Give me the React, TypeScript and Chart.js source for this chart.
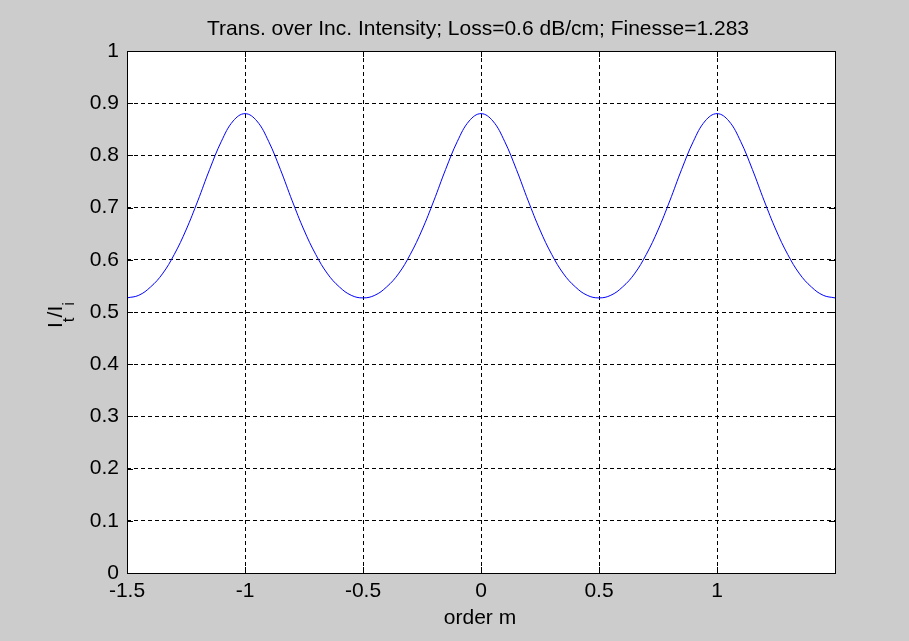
import { useEffect, useRef } from 'react';
import { Chart, registerables } from 'chart.js';

Chart.register(...registerables);

const FONT = '"Liberation Sans", Arial, Helvetica, sans-serif';
const chartTitle = 'Trans. over Inc. Intensity; Loss=0.6 dB/cm; Finesse=1.283';
const xAxisLabel = 'order m';

const orderM = [
  -1.5, -1.45, -1.4, -1.35, -1.3, -1.25, -1.2, -1.15, -1.1, -1.05,
  -1.0, -0.95, -0.9, -0.85, -0.8, -0.75, -0.7, -0.65, -0.6, -0.55,
  -0.5, -0.45, -0.4, -0.35, -0.3, -0.25, -0.2, -0.15, -0.1, -0.05,
  0.0, 0.05, 0.1, 0.15, 0.2, 0.25, 0.3, 0.35, 0.4, 0.45,
  0.5, 0.55, 0.6, 0.65, 0.7, 0.75, 0.8, 0.85, 0.9, 0.95,
  1.0, 1.05, 1.1, 1.15, 1.2, 1.25, 1.3, 1.35, 1.4, 1.45,
  1.5,
];

const transmission = [
  0.527, 0.532, 0.548, 0.573, 0.610, 0.657, 0.713, 0.773, 0.827, 0.866,
  0.880, 0.866, 0.827, 0.773, 0.713, 0.657, 0.610, 0.573, 0.548, 0.532,
  0.527, 0.532, 0.548, 0.573, 0.610, 0.657, 0.713, 0.773, 0.827, 0.866,
  0.880, 0.866, 0.827, 0.773, 0.713, 0.657, 0.610, 0.573, 0.548, 0.532,
  0.527, 0.532, 0.548, 0.573, 0.610, 0.657, 0.713, 0.773, 0.827, 0.866,
  0.880, 0.866, 0.827, 0.773, 0.713, 0.657, 0.610, 0.573, 0.548, 0.532,
  0.527,
];

const xTicks = [-1.5, -1, -0.5, 0, 0.5, 1, 1.5];
const xTickLabels = ['-1.5', '-1', '-0.5', '0', '0.5', '1', ''];
const yTicks = [0, 0.1, 0.2, 0.3, 0.4, 0.5, 0.6, 0.7, 0.8, 0.9, 1];
const yTickLabels = ['0', '0.1', '0.2', '0.3', '0.4', '0.5', '0.6', '0.7', '0.8', '0.9', '1'];

const matlabPlugin = {
  id: 'matlabLook',
  beforeDraw(chart: any) {
    const { ctx, width, height, chartArea: a } = chart;
    ctx.save();
    ctx.fillStyle = '#cccccc';
    ctx.fillRect(0, 0, width, height);
    ctx.fillStyle = '#ffffff';
    ctx.fillRect(a.left, a.top, a.right - a.left, a.bottom - a.top);
    ctx.restore();
  },
  afterDraw(chart: any) {
    const { ctx, chartArea: a } = chart;
    const xs = chart.scales.x;
    const ys = chart.scales.y;
    ctx.save();
    ctx.strokeStyle = '#000000';
    ctx.lineWidth = 1;
    ctx.setLineDash([]);
    ctx.strokeRect(a.left + 0.5, a.top + 0.5, a.right - a.left, a.bottom - a.top);
    ctx.beginPath();
    xTicks.forEach((v) => {
      const px = Math.round(xs.getPixelForValue(v)) + 0.5;
      ctx.moveTo(px, a.bottom);
      ctx.lineTo(px, a.bottom - 6);
      ctx.moveTo(px, a.top);
      ctx.lineTo(px, a.top + 6);
    });
    yTicks.forEach((v) => {
      const py = Math.round(ys.getPixelForValue(v)) + 0.5;
      ctx.moveTo(a.left, py);
      ctx.lineTo(a.left + 6, py);
      ctx.moveTo(a.right, py);
      ctx.lineTo(a.right - 6, py);
    });
    ctx.stroke();

    ctx.fillStyle = '#000000';
    ctx.font = `21px ${FONT}`;
    ctx.textAlign = 'center';
    ctx.textBaseline = 'alphabetic';
    ctx.fillText(chartTitle, 478, 35);
    ctx.fillText(xAxisLabel, 480, 624);

    // y-axis label: I_t / I_i, rotated
    const parts = [
      { t: 'I', sub: false },
      { t: 't', sub: true },
      { t: '/', sub: false },
      { t: 'I', sub: false },
      { t: 'i', sub: true },
    ];
    const mainFont = `21px ${FONT}`;
    const subFont = `17px ${FONT}`;
    let total = 0;
    parts.forEach((p) => {
      ctx.font = p.sub ? subFont : mainFont;
      total += ctx.measureText(p.t).width;
    });
    ctx.translate(62, 315);
    ctx.rotate(-Math.PI / 2);
    ctx.textAlign = 'left';
    let cx = -total / 2;
    parts.forEach((p) => {
      ctx.font = p.sub ? subFont : mainFont;
      ctx.fillText(p.t, cx, p.sub ? 12 : 0);
      cx += ctx.measureText(p.t).width;
    });
    ctx.restore();
  },
};

export default function App() {
  const canvasRef = useRef<HTMLCanvasElement | null>(null);

  useEffect(() => {
    if (!canvasRef.current) return;
    const points = orderM.map((m, i) => ({ x: m, y: transmission[i] }));
    const chart = new Chart(canvasRef.current, {
      type: 'line',
      data: {
        datasets: [
          {
            data: points,
            borderColor: '#0000ff',
            borderWidth: 1,
            pointRadius: 0,
            tension: 0.4,
            fill: false,
          },
        ],
      },
      options: {
        animation: false,
        responsive: false,
        maintainAspectRatio: false,
        devicePixelRatio: 1,
        layout: { padding: { top: 51, right: 74, left: 0, bottom: 0 } },
        plugins: {
          legend: { display: false },
          tooltip: { enabled: false },
          title: { display: false },
        },
        scales: {
          x: {
            type: 'linear',
            min: -1.5,
            max: 1.5,
            afterBuildTicks: (s: any) => {
              s.ticks = xTicks.map((v) => ({ value: v }));
            },
            afterFit: (s: any) => {
              s.height = 68;
            },
            grid: { color: '#000000', lineWidth: 1, drawTicks: false },
            border: { display: false, dash: [4, 3] },
            ticks: {
              padding: 6,
              color: '#000000',
              font: { family: FONT, size: 21 },
              maxRotation: 0,
              autoSkip: false,
              callback: (_v: any, i: number) => xTickLabels[i],
            },
          },
          y: {
            type: 'linear',
            min: 0,
            max: 1,
            afterBuildTicks: (s: any) => {
              s.ticks = yTicks.map((v) => ({ value: v }));
            },
            afterFit: (s: any) => {
              s.width = 127;
            },
            grid: { color: '#000000', lineWidth: 1, drawTicks: false },
            border: { display: false, dash: [4, 3] },
            ticks: {
              padding: 8,
              color: '#000000',
              font: { family: FONT, size: 21 },
              autoSkip: false,
              callback: (_v: any, i: number) => yTickLabels[i],
            },
          },
        },
      },
      plugins: [matlabPlugin],
    });
    return () => chart.destroy();
  }, []);

  return (
    <div style={{ position: 'fixed', left: 0, top: 0, width: 909, height: 641 }}>
      <canvas ref={canvasRef} width={909} height={641} style={{ display: 'block' }} />
    </div>
  );
}
